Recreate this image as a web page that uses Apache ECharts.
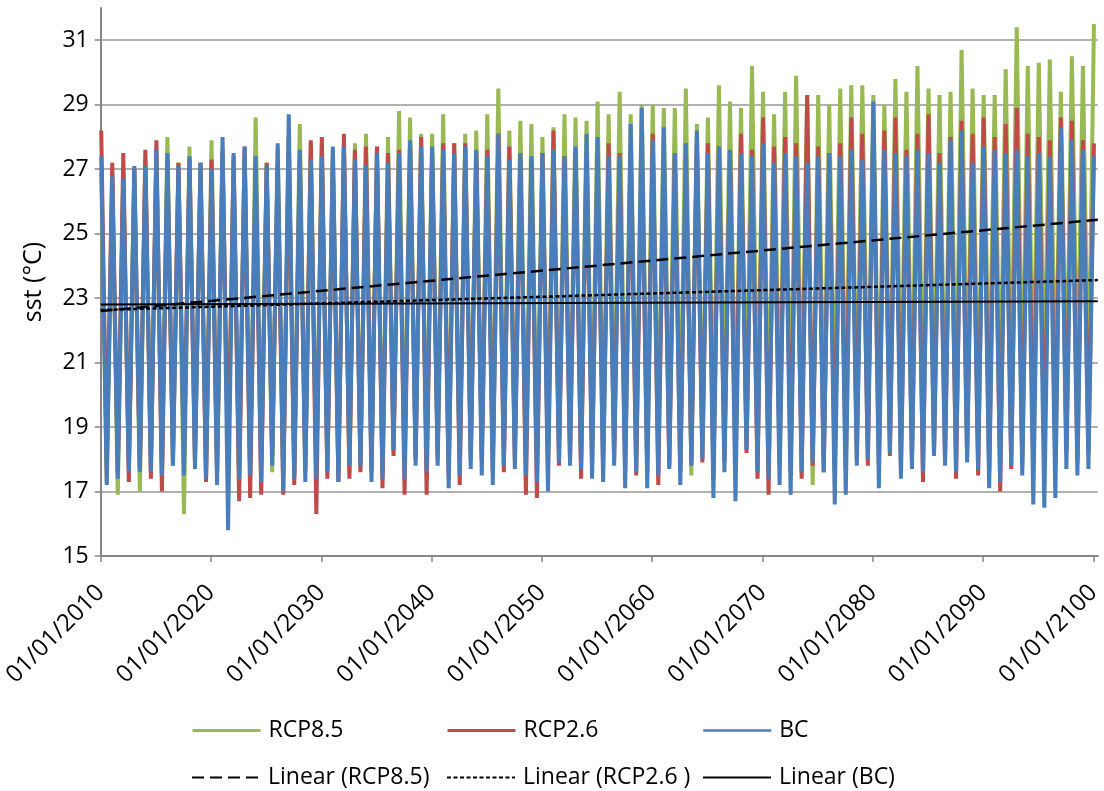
<!DOCTYPE html>
<html>
<head>
<meta charset="utf-8">
<script src="https://cdn.jsdelivr.net/npm/echarts@6/dist/echarts.min.js"></script>
<style>
  html, body { margin: 0; padding: 0; background: #fff; }
  #chart { width: 1104px; height: 791px; }
</style>
</head>
<body>
<div id="chart"></div>
<script>
// yearly summer peaks (Jan/Feb) 2010..2100
var rcp85Peak = [
  26.9, 26.9, 26.9, 27.0, 27.3, 27.4, 28.0, 27.2, 27.7, 27.2,
  27.9, 27.5, 26.9, 27.5, 28.6, 27.2, 27.6, 27.5, 28.4, 27.8,
  27.8, 27.6, 27.7, 27.8, 28.1, 27.6, 28.0, 28.8, 28.6, 28.1,
  28.1, 28.7, 27.8, 28.1, 28.2, 28.7, 29.5, 28.2, 28.5, 28.4,
  28.0, 28.3, 28.7, 28.6, 28.5, 29.1, 28.7, 29.4, 28.7, 29.0,
  29.0, 28.9, 28.9, 29.5, 28.4, 28.6, 29.6, 29.1, 28.9, 30.2,
  29.4, 28.7, 29.4, 29.9, 29.3, 29.3, 29.0, 29.5, 29.6, 29.6,
  29.3, 29.0, 29.8, 29.4, 30.2, 29.5, 29.3, 29.4, 30.7, 29.5,
  29.3, 29.3, 30.1, 31.4, 30.2, 30.3, 30.4, 29.4, 30.5, 30.2,
  31.5
];
var rcp26Peak = [
  28.2, 27.2, 27.5, 27.0, 27.6, 27.9, 27.3, 27.2, 27.3, 27.2,
  27.3, 27.6, 27.4, 27.7, 27.1, 27.2, 27.1, 28.0, 27.3, 27.9,
  28.0, 27.3, 28.1, 27.6, 27.7, 27.7, 27.5, 27.6, 27.8, 28.0,
  27.5, 27.8, 27.8, 27.8, 27.5, 27.6, 28.1, 27.7, 27.4, 27.3,
  27.5, 28.2, 27.4, 27.6, 27.5, 27.4, 27.8, 27.5, 27.6, 27.7,
  28.1, 27.4, 27.4, 27.4, 27.8, 27.8, 27.7, 27.5, 28.1, 27.6,
  28.6, 27.7, 28.0, 27.8, 29.3, 27.7, 27.5, 27.8, 28.6, 28.1,
  28.4, 28.2, 28.6, 27.6, 28.1, 28.7, 27.5, 28.0, 28.5, 28.1,
  28.6, 28.0, 28.4, 28.9, 28.1, 28.0, 27.9, 28.6, 28.5, 27.9,
  27.8
];
var bcPeak = [
  27.4, 26.8, 26.7, 27.1, 27.1, 27.6, 27.5, 27.1, 27.4, 27.2,
  27.0, 28.0, 27.5, 27.7, 27.4, 27.1, 27.8, 28.7, 27.6, 27.3,
  27.4, 27.7, 27.7, 27.3, 27.1, 27.5, 27.2, 27.5, 27.9, 27.7,
  27.7, 27.6, 27.5, 27.7, 27.6, 27.4, 28.1, 27.3, 27.5, 27.4,
  27.5, 27.6, 27.4, 27.7, 28.1, 28.0, 27.4, 27.4, 28.4, 28.9,
  27.9, 28.3, 27.5, 27.8, 28.2, 27.5, 27.7, 27.6, 27.5, 27.4,
  27.8, 27.2, 27.5, 27.4, 27.2, 27.4, 27.5, 27.4, 27.6, 27.3,
  29.1, 27.6, 27.5, 27.4, 27.6, 27.5, 27.2, 27.9, 28.2, 27.2,
  27.7, 27.6, 27.5, 27.6, 27.4, 27.5, 27.4, 28.3, 27.9, 27.6,
  27.4
];

// yearly winter troughs (Jul/Aug) 2010..2099
var rcp85Trough = [
  17.3, 16.9, 17.8, 17.0, 17.8, 17.6, 17.8, 16.3, 18.0, 17.5,
  17.6, 17.8, 17.5, 17.6, 18.0, 17.6, 17.4, 17.6, 17.8, 17.6,
  17.8, 17.5, 17.6, 17.9, 18.0, 17.8, 18.3, 17.8, 18.1, 18.0,
  18.2, 17.9, 18.0, 18.2, 18.3, 18.0, 18.4, 18.3, 18.1, 18.2,
  18.4, 18.3, 18.5, 17.9, 18.4, 18.3, 18.6, 18.4, 18.5, 18.6,
  18.4, 18.7, 18.5, 17.5, 18.8, 18.6, 18.9, 18.7, 19.0, 18.8,
  18.9, 19.0, 18.8, 19.1, 17.2, 19.0, 19.2, 19.0, 19.3, 19.1,
  19.2, 19.4, 19.5, 19.2, 19.4, 19.6, 19.3, 19.5, 19.7, 19.4,
  19.6, 19.5, 19.8, 19.6, 19.7, 19.9, 19.6, 19.8, 20.0, 19.7
];
var rcp26Trough = [
  17.8, 17.6, 17.3, 17.7, 17.4, 17.0, 18.0, 18.0, 18.0, 17.3,
  17.6, 17.6, 16.7, 16.8, 16.9, 18.1, 16.9, 17.2, 17.6, 16.3,
  17.4, 17.3, 17.4, 17.6, 17.6, 17.1, 18.1, 16.9, 18.0, 16.9,
  18.0, 17.4, 17.2, 18.0, 18.0, 17.6, 17.6, 18.0, 16.9, 16.8,
  17.6, 17.8, 18.0, 17.4, 17.8, 17.7, 18.0, 17.6, 17.5, 17.6,
  17.2, 17.8, 17.6, 17.9, 17.9, 17.4, 17.9, 17.6, 18.2, 17.4,
  16.9, 17.8, 17.6, 17.4, 17.8, 17.6, 17.6, 17.7, 18.0, 17.8,
  17.8, 18.1, 17.8, 18.0, 17.3, 18.2, 18.0, 17.4, 18.1, 17.5,
  17.6, 17.0, 17.7, 17.8, 17.9, 17.9, 17.8, 18.2, 17.9, 18.2
];
var bcTrough = [
  17.2, 17.4, 17.6, 17.6, 17.6, 17.5, 17.8, 17.5, 17.7, 17.4,
  17.2, 15.8, 17.4, 17.5, 17.3, 17.8, 17.0, 17.4, 17.3, 17.4,
  17.6, 17.3, 17.8, 17.8, 17.3, 17.4, 18.3, 17.4, 17.8, 17.6,
  17.8, 17.1, 17.5, 17.7, 17.5, 17.2, 17.8, 17.7, 17.5, 17.3,
  17.0, 17.9, 17.8, 17.7, 17.4, 17.3, 17.8, 17.1, 17.6, 17.1,
  17.5, 17.7, 17.2, 17.8, 18.0, 16.8, 17.6, 16.7, 18.3, 17.6,
  17.4, 17.2, 16.9, 17.6, 17.9, 17.6, 16.6, 16.9, 17.8, 18.0,
  17.1, 18.2, 17.4, 17.7, 17.6, 18.1, 17.8, 17.6, 17.9, 17.7,
  17.1, 17.3, 17.8, 17.5, 16.6, 16.5, 16.8, 17.7, 17.5, 17.7
];

// linear trend lines, start (2010) and end (axis end)
var trendX = [2010, 2100.4];
var rcp85Trend = [22.6, 25.43];
var rcp26Trend = [22.63, 23.56];
var bcTrend = [22.8, 22.9];

var yTicks = { min: 15, max: 32, step: 2 };
var xTicks = { min: 2010, max: 2100.4, step: 10 };

var fontFam = "'Open Sans', 'Liberation Sans', sans-serif";

// peak around Jan/Feb, trough around Jul/Aug of every year
function buildSeries(peaks, troughs) {
  var out = [];
  for (var i = 0; i < peaks.length; i++) {
    out.push([2010 + i + 0.05, peaks[i]]);
    if (i < troughs.length) out.push([2010 + i + 0.55, troughs[i]]);
  }
  return out;
}
function buildTrend(vals) {
  return [[trendX[0], vals[0]], [trendX[1], vals[1]]];
}

var myChart = echarts.init(document.getElementById('chart'));

function legendAt(name, left, top, lineW) {
  return {
    data: [{ name: name, lineStyle: { width: lineW } }],
    left: left,
    top: top,
    padding: 0,
    itemWidth: 68,
    itemHeight: 20,
    selectedMode: false,
    itemStyle: { opacity: 0 },
    lineStyle: { width: lineW },
    textStyle: { fontSize: 23, color: '#000', fontFamily: fontFam, padding: [0, 0, 0, 3] }
  };
}

var axisGray = '#868686';

myChart.setOption({
  animation: false,
  backgroundColor: '#fff',
  grid: { left: 100, right: 3, top: 8, bottom: 235 },
  legend: [
    legendAt('RCP8.5', 191, 719, 3),
    legendAt('RCP2.6', 446, 719, 3),
    legendAt('BC', 702, 719, 2.5),
    legendAt('Linear (RCP8.5)', 191, 766, 2),
    legendAt('Linear (RCP2.6 )', 446, 766, 2),
    legendAt('Linear (BC)', 702, 766, 2)
  ],
  xAxis: {
    type: 'value',
    min: xTicks.min,
    max: xTicks.max,
    interval: xTicks.step,
    axisLine: { show: true, lineStyle: { color: axisGray, width: 2 } },
    axisTick: { show: true, length: 6, lineStyle: { color: axisGray, width: 1.5 } },
    splitLine: { show: false },
    axisLabel: {
      rotate: 45,
      margin: 33,
      fontSize: 24,
      color: '#000',
      fontFamily: fontFam,
      showMaxLabel: false,
      formatter: function (v) {
        return (v % 10 === 0) ? '01/01/' + v : '';
      }
    }
  },
  yAxis: {
    type: 'value',
    min: yTicks.min,
    max: yTicks.max,
    interval: yTicks.step,
    name: 'sst (°C)',
    nameLocation: 'middle',
    nameGap: 54,
    nameTextStyle: { fontSize: 25, color: '#000', fontFamily: fontFam },
    axisLine: { show: true, lineStyle: { color: axisGray, width: 2 } },
    axisTick: { show: true, length: 6, lineStyle: { color: axisGray, width: 1.5 } },
    splitLine: { show: true, showMaxLine: false, lineStyle: { color: '#979797', width: 1.5 } },
    axisLabel: {
      margin: 12,
      fontSize: 23,
      color: '#000',
      fontFamily: fontFam,
      showMaxLabel: false
    }
  },
  series: [
    {
      name: 'RCP8.5', type: 'line', symbol: 'none', silent: true,
      lineStyle: { color: '#98B954', width: 4 }, itemStyle: { color: '#98B954' },
      data: buildSeries(rcp85Peak, rcp85Trough)
    },
    {
      name: 'RCP2.6', type: 'line', symbol: 'none', silent: true,
      lineStyle: { color: '#BE4B48', width: 4 }, itemStyle: { color: '#BE4B48' },
      data: buildSeries(rcp26Peak, rcp26Trough)
    },
    {
      name: 'BC', type: 'line', symbol: 'none', silent: true,
      lineStyle: { color: '#4A7EBB', width: 4 }, itemStyle: { color: '#4A7EBB' },
      data: buildSeries(bcPeak, bcTrough)
    },
    {
      name: 'Linear (RCP8.5)', type: 'line', symbol: 'none', silent: true,
      lineStyle: { color: '#000', width: 2.5, type: [12, 6] }, itemStyle: { color: '#000' },
      data: buildTrend(rcp85Trend)
    },
    {
      name: 'Linear (RCP2.6 )', type: 'line', symbol: 'none', silent: true,
      lineStyle: { color: '#000', width: 2.5, type: [4, 2.5] }, itemStyle: { color: '#000' },
      data: buildTrend(rcp26Trend)
    },
    {
      name: 'Linear (BC)', type: 'line', symbol: 'none', silent: true,
      lineStyle: { color: '#000', width: 2 }, itemStyle: { color: '#000' },
      data: buildTrend(bcTrend)
    }
  ]
});
</script>
</body>
</html>
